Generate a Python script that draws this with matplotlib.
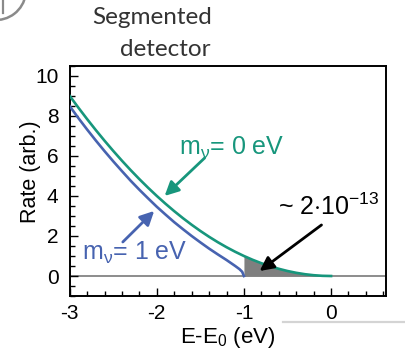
import matplotlib
matplotlib.use("Agg")
import matplotlib.pyplot as plt
from matplotlib.ticker import MultipleLocator
from matplotlib.patches import Arc
from matplotlib.lines import Line2D

plt.rcParams['font.family'] = ['Liberation Sans', 'DejaVu Sans']
plt.rcParams['mathtext.fontset'] = 'custom'
plt.rcParams['mathtext.rm'] = 'Liberation Sans'
plt.rcParams['mathtext.it'] = 'Liberation Sans'

# Rate near the endpoint for a massless neutrino
energy_m0 = [-3.0, -2.9, -2.8, -2.7, -2.6, -2.5, -2.4, -2.3, -2.2, -2.1, -2.0,
             -1.9, -1.8, -1.7, -1.6, -1.5, -1.4, -1.3, -1.2, -1.1, -1.0,
             -0.9, -0.8, -0.7, -0.6, -0.5, -0.4, -0.3, -0.2, -0.1, 0.0]
rate_m0 = [9.00, 8.41, 7.84, 7.29, 6.76, 6.25, 5.76, 5.29, 4.84, 4.41, 4.00,
           3.61, 3.24, 2.89, 2.56, 2.25, 1.96, 1.69, 1.44, 1.21, 1.00,
           0.81, 0.64, 0.49, 0.36, 0.25, 0.16, 0.09, 0.04, 0.01, 0.00]

# Rate near the endpoint for a 1 eV neutrino
energy_m1 = [-3.0, -2.9, -2.8, -2.7, -2.6, -2.5, -2.4, -2.3, -2.2, -2.1, -2.0,
             -1.9, -1.8, -1.7, -1.6, -1.5, -1.4, -1.3, -1.2, -1.1, -1.05,
             -1.02, -1.0]
rate_m1 = [8.49, 7.89, 7.32, 6.77, 6.24, 5.73, 5.24, 4.76, 4.31, 3.88, 3.46,
           3.07, 2.69, 2.34, 2.00, 1.68, 1.37, 1.08, 0.80, 0.50, 0.34,
           0.21, 0.00]

x_ticks = [-3, -2, -1, 0]
y_ticks = [0, 2, 4, 6, 8, 10]

green = '#17967c'
blue = '#4763b0'

fig = plt.figure(figsize=(4.05, 3.52), dpi=100)
ax = fig.add_axes([0.172, 0.159, 0.781, 0.654])

ax.axhline(0, color='#6e6e6e', lw=1.1, zorder=1)

# Region beyond the 1 eV endpoint, under the massless spectrum
fill_e = [e for e in energy_m0 if e >= -1.0]
fill_r = [r for e, r in zip(energy_m0, rate_m0) if e >= -1.0]
ax.fill_between(fill_e, 0, fill_r, color='#7f7f7f', lw=0, zorder=2)

ax.plot(energy_m0, rate_m0, color=green, lw=1.9, zorder=3)
ax.plot(energy_m1, rate_m1, color=blue, lw=1.9, zorder=3)

ax.set_xlim(-3, 0.63)
ax.set_ylim(-1.0, 10.5)
ax.set_xticks(x_ticks)
ax.set_yticks(y_ticks)
ax.set_xticklabels([str(t) for t in x_ticks])
ax.xaxis.set_minor_locator(MultipleLocator(0.2))
ax.yaxis.set_minor_locator(MultipleLocator(0.5))
ax.tick_params(which='both', direction='in', top=False, right=False,
               labelsize=15, width=1.0)
ax.tick_params(axis='x', pad=6)
ax.tick_params(axis='y', pad=8)
ax.tick_params(which='major', length=6)
ax.tick_params(which='minor', length=3.5)
for sp in ax.spines.values():
    sp.set_linewidth(1.4)

ax.set_xlabel('E-E$_0$ (eV)', fontsize=16, labelpad=1)
ax.set_ylabel('Rate (arb.)', fontsize=15.5)
ax.yaxis.label.set_va('center')
ax.yaxis.set_label_coords(-0.125, 0.539)

arrow_kw = dict(arrowstyle='-|>', mutation_scale=21, lw=2.0,
                shrinkA=0, shrinkB=0)

ax.text(-1.14, 6.4, 'm$_\\nu$= 0 eV', color=green, fontsize=18,
        ha='center', va='center')
ax.annotate('', xy=(-1.91, 4.0), xytext=(-1.45, 5.9),
            arrowprops=dict(color=green, **arrow_kw))

ax.text(-2.25, 1.15, 'm$_\\nu$= 1 eV', color=blue, fontsize=18,
        ha='center', va='center')
ax.annotate('', xy=(-2.03, 3.25), xytext=(-2.39, 1.7),
            arrowprops=dict(color=blue, **arrow_kw))

ax.text(-0.03, 3.45, '~ 2$\\cdot$10$^{-13}$', color='black', fontsize=18,
        ha='center', va='center')
ax.annotate('', xy=(-0.82, 0.25), xytext=(-0.11, 2.55),
            arrowprops=dict(color='black', **arrow_kw))

# Title above the panel
fig.text(152 / 405, 1 - 18 / 352, 'Segmented', fontsize=17.5, color='#333333',
         family='Lato', ha='center', va='center')
fig.text(165 / 405, 1 - 50 / 352, 'detector', fontsize=17.5, color='#333333',
         family='Lato', ha='center', va='center')

# Slide decorations
fig.add_artist(Line2D([283 / 405, 1.0], [1 - 322 / 352, 1 - 322 / 352],
                      transform=fig.transFigure, color='#d4d4d4', lw=1.6))
fig.add_artist(Arc((-4 / 405, 1 - (-10) / 352), 60 / 405, 60 / 352,
                   theta1=265, theta2=350, transform=fig.transFigure,
                   color='#8a8a8a', lw=1.8))
fig.add_artist(Line2D([3 / 405, 3 / 405], [1, 1 - 13 / 352],
                      transform=fig.transFigure, color='#8a8a8a', lw=1.6))

fig.savefig('out.png', dpi=100)
